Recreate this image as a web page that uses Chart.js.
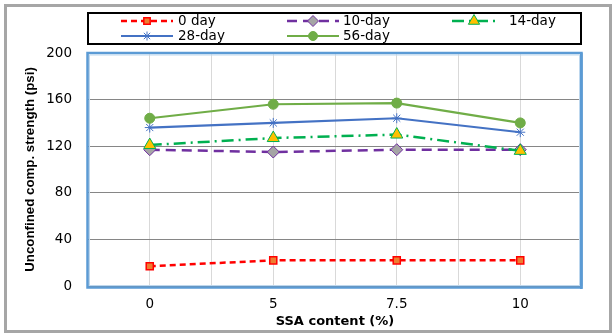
<!DOCTYPE html>
<html>
<head>
<meta charset="utf-8">
<script src="https://cdn.jsdelivr.net/npm/chart.js@4/dist/chart.umd.min.js"></script>
<style>
  html, body { margin: 0; padding: 0; background: #ffffff; }
  #wrap { width: 614px; height: 335px; position: relative; }
</style>
</head>
<body>
<div id="wrap"><canvas id="c" width="614" height="335"></canvas></div>
<script>
// ---- data ----
const categories = ['0', '5', '7.5', '10'];           // SSA content (%)
const seriesNames = ['0 day', '10-day', '14-day', '28-day', '56-day'];
const day0  = [17, 22, 22, 22];
const day10 = [117, 115, 117, 117];
const day14 = [121, 127, 130, 116];
const day28 = [136, 140, 144, 132];
const day56 = [144, 156, 157, 140];
const yTickValues = [0, 40, 80, 120, 160, 200];

const toPts = arr => arr.map((v, i) => ({ x: i, y: v }));

const tickFont = { family: 'DejaVu Sans', size: 13.5 };

const datasets = [
  { label: seriesNames[0], data: toPts(day0), borderColor: '#FF0000', borderWidth: 2.5, borderDash: [6, 4],
    pointStyle: 'rect', pointRadius: 5, pointBackgroundColor: '#ED7D31', pointBorderColor: '#FF0000', pointBorderWidth: 1.5, order: 4 },
  { label: seriesNames[1], data: toPts(day10), borderColor: '#7030A0', borderWidth: 2.5, borderDash: [10, 6],
    pointStyle: 'rectRot', pointRadius: 6, pointBackgroundColor: '#A5A5A5', pointBorderColor: '#7030A0', pointBorderWidth: 1, order: 3 },
  { label: seriesNames[2], data: toPts(day14), borderColor: '#00B050', borderWidth: 2.5, borderDash: [12, 5, 2, 5],
    pointStyle: 'triangle', pointRadius: 7, pointBackgroundColor: '#FFC000', pointBorderColor: '#00B050', pointBorderWidth: 1, order: 2 },
  { label: seriesNames[3], data: toPts(day28), borderColor: '#4472C4', borderWidth: 2.2, borderDash: [],
    pointStyle: 'star', pointRadius: 5, pointBackgroundColor: '#4472C4', pointBorderColor: '#4472C4', pointBorderWidth: 1, order: 1 },
  { label: seriesNames[4], data: toPts(day56), borderColor: '#70AD47', borderWidth: 2.2, borderDash: [],
    pointStyle: 'circle', pointRadius: 5, pointBackgroundColor: '#70AD47', pointBorderColor: '#70AD47', pointBorderWidth: 1, order: 0 }
];
datasets.forEach(d => { d.tension = 0; d.fill = false; d.pointHoverRadius = d.pointRadius; });

// Outer gray frame + white background
const bgPlugin = {
  id: 'bg',
  beforeDraw(chart) {
    const ctx = chart.ctx;
    ctx.save();
    ctx.fillStyle = '#ffffff';
    ctx.fillRect(0, 0, chart.width, chart.height);
    ctx.lineWidth = 3;
    ctx.strokeStyle = '#A6A6A6';
    ctx.strokeRect(5.5, 5.5, 605, 326);
    ctx.restore();
  }
};

// Blue plot frame drawn around the chart area
const framePlugin = {
  id: 'frame',
  afterDatasetsDraw(chart) {
    const { left, top, right, bottom } = chart.chartArea;
    const ctx = chart.ctx;
    ctx.save();
    ctx.strokeStyle = '#5B9BD5';
    ctx.lineWidth = 2.5;
    ctx.strokeRect(left - 0.5, top, right - left, bottom - top + 1.5);
    ctx.strokeStyle = '#BDD7EE';
    ctx.lineWidth = 1;
    ctx.strokeRect(left + 1.5, top + 2, right - left - 4, bottom - top - 2.5);
    ctx.fillStyle = '#5B9BD5';
    ctx.fillRect(right - 2, top, 2.5, bottom - top + 3);
    ctx.restore();
  }
};

// Legend box with three columns, drawn from the datasets
const legendPlugin = {
  id: 'boxLegend',
  afterDraw(chart) {
    const ctx = chart.ctx;
    ctx.save();
    ctx.strokeStyle = '#000000';
    ctx.lineWidth = 2;
    ctx.strokeRect(88, 13, 493, 31);
    const cols = [
      { x0: 121, x1: 173, tx: 178 },
      { x0: 287, x1: 339, tx: 343 },
      { x0: 452, x1: 496, tx: 509 }
    ];
    const rows = [21, 36];
    chart.data.datasets.forEach((ds, i) => {
      const col = cols[i % 3];
      const y = rows[Math.floor(i / 3)];
      ctx.save();
      ctx.strokeStyle = ds.borderColor;
      ctx.lineWidth = ds.borderWidth;
      ctx.setLineDash(ds.borderDash || []);
      ctx.beginPath();
      ctx.moveTo(col.x0, y);
      ctx.lineTo(col.x1, y);
      ctx.stroke();
      ctx.setLineDash([]);
      ctx.fillStyle = ds.pointBackgroundColor;
      ctx.strokeStyle = ds.pointBorderColor;
      ctx.lineWidth = ds.pointBorderWidth;
      Chart.helpers.drawPoint(ctx, { pointStyle: ds.pointStyle, radius: ds.pointRadius - 0.5, borderWidth: ds.pointBorderWidth, rotation: 0 },
        (col.x0 + col.x1) / 2, y);
      ctx.restore();
      ctx.fillStyle = '#000000';
      ctx.font = '13.5px "DejaVu Sans"';
      ctx.textBaseline = 'middle';
      ctx.textAlign = 'left';
      ctx.fillText(ds.label, col.tx, y);
    });
    ctx.restore();
  }
};

new Chart(document.getElementById('c'), {
  type: 'line',
  data: { datasets },
  options: {
    responsive: false,
    animation: false,
    devicePixelRatio: 1,
    layout: { padding: { top: 53, right: 32, left: 0, bottom: 0 } },
    plugins: { legend: { display: false }, tooltip: { enabled: false } },
    scales: {
      x: {
        type: 'linear',
        min: -0.5, max: 3.5,
        afterFit(scale) { scale.height = 49; },
        afterBuildTicks(scale) {
          const t = [];
          for (let v = -0.5; v <= 3.5001; v += 0.5) t.push({ value: v });
          scale.ticks = t;
        },
        ticks: {
          autoSkip: false, maxRotation: 0, padding: 10,
          color: '#000000', font: tickFont,
          callback: v => (Number.isInteger(v) && v >= 0 && v < categories.length) ? categories[v] : ''
        },
        grid: { color: '#D9D9D9', lineWidth: 1, drawTicks: false },
        border: { display: false },
        title: { display: true, text: 'SSA content (%)', color: '#000000',
                 font: { family: 'DejaVu Sans', size: 13, weight: 'bold' }, padding: { top: 0, bottom: 6 } }
      },
      y: {
        min: 0, max: 200,
        afterFit(scale) { scale.width = 88; },
        afterBuildTicks(scale) { scale.ticks = yTickValues.map(v => ({ value: v })); },
        ticks: { padding: 16, color: '#000000', font: tickFont },
        grid: { color: '#868686', lineWidth: 1, drawTicks: false },
        border: { display: false },
        title: { display: true, text: 'Unconfined comp. strength (psi)', color: '#000000',
                 font: { family: 'Liberation Sans', size: 13.3, weight: 'bold' }, padding: { top: 22, bottom: 0 } }
      }
    }
  },
  plugins: [bgPlugin, framePlugin, legendPlugin]
});
</script>
</body>
</html>
